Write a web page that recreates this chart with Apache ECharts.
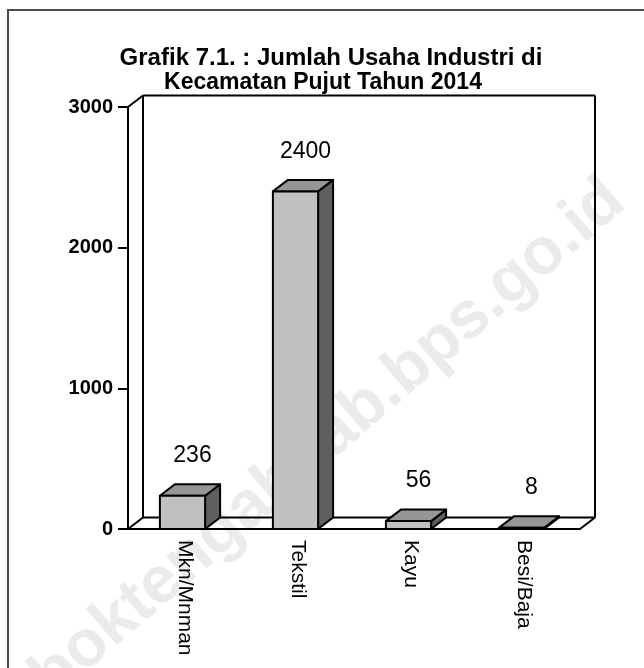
<!DOCTYPE html>
<html>
<head>
<meta charset="utf-8">
<script src="https://cdn.jsdelivr.net/npm/echarts@6/dist/echarts.min.js"></script>
<style>
  html, body { margin: 0; padding: 0; background: #fff; }
  #grafik { width: 644px; height: 668px; }
</style>
</head>
<body>
<div id="grafik"></div>
<script>
var categories = ['Mkn/Mnman', 'Tekstil', 'Kayu', 'Besi/Baja'];
var values = [236, 2400, 56, 8];
var yMin = 0, yMax = 3000, yStep = 1000;
var titleLines = ['Grafik 7.1. : Jumlah Usaha Industri di', 'Kecamatan Pujut Tahun 2014'];

var FONT = '"Liberation Sans", Arial, sans-serif';
var DX = 15, DY = -11.5; // kedalaman 3D

var chart = echarts.init(document.getElementById('grafik'));

function line(x1, y1, x2, y2) {
    return {
        type: 'line',
        shape: { x1: x1, y1: y1, x2: x2, y2: y2 },
        style: { stroke: '#000', lineWidth: 2 }
    };
}

// dinding belakang + lantai
function renderWalls(params, api) {
    var cs = params.coordSys;
    var x0 = cs.x, y0 = cs.y, x1 = cs.x + cs.width, y1 = cs.y + cs.height;
    return {
        type: 'group',
        children: [
            line(x0, y0, x0 + DX, y0 + DY),
            line(x0 + DX, y0 + DY, x0 + DX, y1 + DY),
            line(x0 + DX, y0 + DY, x1 + DX, y0 + DY),
            line(x1 + DX, y0 + DY, x1 + DX, y1 + DY),
            line(x0 + DX, y1 + DY, x1 + DX, y1 + DY),
            line(x0, y1, x0 + DX, y1 + DY),
            line(x1, y1, x1 + DX, y1 + DY)
        ]
    };
}

// batang 3D
function renderBar(params, api) {
    var top = api.coord([api.value(0), api.value(1)]);
    var base = api.coord([api.value(0), 0]);
    var bw = api.size([1, 0])[0] * 0.4;
    var cx = top[0] - 2;
    var l = cx - bw / 2, r = cx + bw / 2;
    var yt = top[1], yb = base[1];
    var stroke = { stroke: '#000', lineWidth: 2, lineJoin: 'round' };
    return {
        type: 'group',
        children: [
            {
                type: 'polygon',
                shape: { points: [[r, yb], [r, yt], [r + DX, yt + DY], [r + DX, yb + DY]] },
                style: Object.assign({ fill: '#5f5f5f' }, stroke)
            },
            {
                type: 'polygon',
                shape: { points: [[l, yt], [r, yt], [r + DX, yt + DY], [l + DX, yt + DY]] },
                style: Object.assign({ fill: '#969696' }, stroke)
            },
            {
                type: 'rect',
                shape: { x: l, y: yt, width: bw, height: yb - yt },
                style: Object.assign({ fill: '#c0c0c0' }, stroke)
            },
            {
                type: 'text',
                style: {
                    text: String(api.value(1)),
                    x: cx + 10, y: yt - 40,
                    align: 'center', verticalAlign: 'middle',
                    font: '23px ' + FONT, fill: '#000'
                }
            }
        ]
    };
}

var option = {
    backgroundColor: '#fff',
    animation: false,
    title: [
        {
            text: titleLines[0], left: 331, top: 46, textAlign: 'center', padding: 0,
            textStyle: { fontFamily: FONT, fontWeight: 'bold', fontSize: 24, color: '#000' }
        },
        {
            text: titleLines[1], left: 323, top: 71, textAlign: 'center', padding: 0,
            textStyle: { fontFamily: FONT, fontWeight: 'bold', fontSize: 23, color: '#000' }
        }
    ],
    graphic: [
        {
            type: 'text', z: -10, silent: true,
            x: 616, y: 192, rotation: 0.71,
            style: {
                text: 'lomboktengahkab.bps.go.id',
                align: 'right', verticalAlign: 'middle',
                font: 'bold 66px ' + FONT, fill: '#ebebeb'
            }
        },
        {
            type: 'rect', z: -5, silent: true,
            shape: { x: 8, y: 10, width: 700, height: 700 },
            style: { fill: null, stroke: '#4d4d4d', lineWidth: 2 }
        }
    ],
    grid: { left: 128, right: 64, top: 107, bottom: 139, containLabel: false },
    xAxis: {
        type: 'category',
        data: categories,
        axisLine: { lineStyle: { color: '#000', width: 2 } },
        axisTick: { length: 8, lineStyle: { color: '#000', width: 2 } },
        axisLabel: {
            rotate: -90, interval: 0, margin: 11,
            fontFamily: FONT, fontSize: 21, color: '#000'
        },
        splitLine: { show: false }
    },
    yAxis: {
        type: 'value',
        min: yMin, max: yMax, interval: yStep,
        axisLine: { show: true, lineStyle: { color: '#000', width: 2 } },
        axisTick: { show: true, length: 10, lineStyle: { color: '#000', width: 2 } },
        axisLabel: {
            margin: 15, fontFamily: FONT, fontWeight: 'bold', fontSize: 20, color: '#000',
            formatter: function (v) { return String(v); }
        },
        splitLine: { show: false }
    },
    series: [
        {
            type: 'custom', silent: true, z: 1,
            renderItem: renderWalls,
            data: [[0, 0]]
        },
        {
            type: 'custom', name: 'Jumlah Usaha', z: 3,
            renderItem: renderBar,
            encode: { x: 0, y: 1 },
            data: values.map(function (v, i) { return [i, v]; })
        }
    ]
};

chart.setOption(option);
</script>
</body>
</html>
